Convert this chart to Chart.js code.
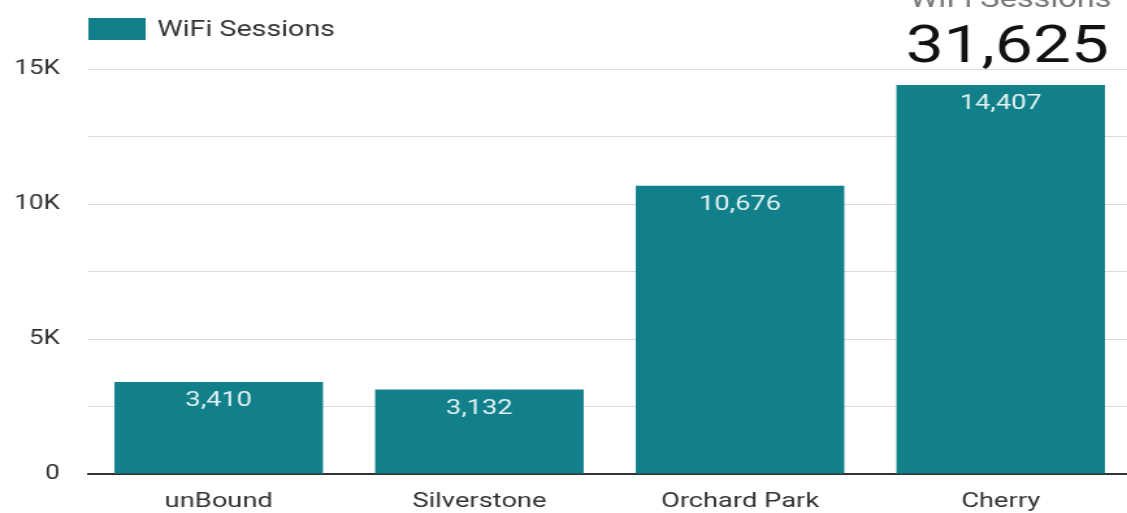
<!DOCTYPE html>
<html>
<head>
<meta charset="utf-8">
<script src="https://cdn.jsdelivr.net/npm/chart.js@4/dist/chart.umd.min.js"></script>
<style>
  html, body { margin: 0; padding: 0; background: #fff; overflow: hidden; }
  /* the reference is stretched sideways, so draw narrower and scale it out */
  #wrap { width: 870px; height: 513px; transform: scaleX(1.3); transform-origin: 0 0; }
</style>
</head>
<body>
<div id="wrap"><canvas id="chart" width="870" height="513"></canvas></div>
<script>
const categories = ["unBound", "Silverstone", "Orchard Park", "Cherry"];
const sessions = [3410, 3132, 10676, 14407];
const seriesLabel = "WiFi Sessions";
const yTicks = [0, 5000, 10000, 15000];
const yTickLabels = ["0", "5K", "10K", "15K"];

const barColor = "#11808a";
const fmt = (v) => v.toLocaleString("en-US");

// value labels just inside the top of every bar
const barValues = {
  id: "barValues",
  afterDatasetsDraw(chart) {
    const ctx = chart.ctx;
    const meta = chart.getDatasetMeta(0);
    ctx.save();
    ctx.font = "21px Roboto";
    ctx.fillStyle = "#e3f1f2";
    ctx.textAlign = "center";
    ctx.textBaseline = "middle";
    meta.data.forEach((bar, i) => {
      ctx.fillText(fmt(sessions[i]), bar.x, bar.y + 19);
    });
    ctx.restore();
  },
};

// legend swatch at top left and the total scorecard at top right
const extras = {
  id: "extras",
  afterDraw(chart) {
    const ctx = chart.ctx;
    const left = chart.chartArea.left;
    ctx.save();
    ctx.fillStyle = barColor;
    ctx.fillRect(left, 18, 44, 22);
    ctx.fillStyle = "#333";
    ctx.font = "22px Roboto";
    ctx.textAlign = "left";
    ctx.textBaseline = "middle";
    ctx.fillText(seriesLabel, left + 53, 30);

    const total = sessions.reduce((a, b) => a + b, 0);
    ctx.textAlign = "right";
    ctx.textBaseline = "alphabetic";
    ctx.fillStyle = "#777";
    ctx.font = "25px Roboto";
    ctx.fillText(seriesLabel, 855, 7);
    ctx.fillStyle = "#111";
    ctx.font = "52px Roboto";
    ctx.fillText(fmt(total), 853, 62);
    ctx.restore();
  },
};

new Chart(document.getElementById("chart"), {
  type: "bar",
  data: {
    labels: categories,
    datasets: [
      {
        label: seriesLabel,
        data: sessions,
        backgroundColor: barColor,
        barPercentage: 0.8,
        categoryPercentage: 1,
      },
    ],
  },
  options: {
    responsive: false,
    animation: false,
    layout: { padding: { top: 69, bottom: 0, left: 0, right: 0 } },
    plugins: {
      legend: { display: false },
      tooltip: { enabled: false },
    },
    scales: {
      x: {
        grid: { display: false },
        border: { color: "#333", width: 2 },
        ticks: { color: "#333", font: { family: "Roboto", size: 21 }, padding: 7 },
        afterFit: (s) => { s.height = 39; },
      },
      y: {
        min: 0,
        max: 15000,
        grid: { color: "#dcdcdc", lineWidth: 1, drawTicks: false },
        border: { display: false },
        ticks: {
          stepSize: 2500,
          padding: 22,
          color: "#333",
          font: { family: "Roboto", size: 20 },
          callback: (v) => {
            const i = yTicks.indexOf(v);
            return i >= 0 ? yTickLabels[i] : "";
          },
        },
        afterFit: (s) => { s.width = 68; },
      },
    },
  },
  plugins: [barValues, extras],
});
</script>
</body>
</html>
